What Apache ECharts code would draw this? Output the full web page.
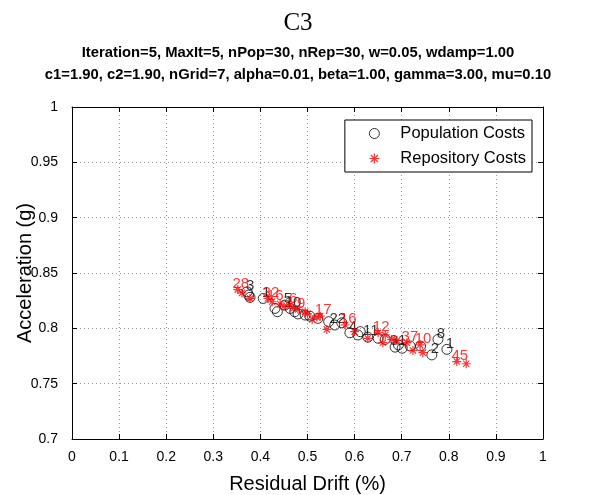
<!DOCTYPE html>
<html><head><meta charset="utf-8">
<script src="https://cdn.jsdelivr.net/npm/echarts@6/dist/echarts.min.js"></script>
<style>html,body{margin:0;padding:0;background:#fff}#c{width:596px;height:495px}</style>
</head><body><div id="c"></div>
<script>
const xTicks = [0,0.1,0.2,0.3,0.4,0.5,0.6,0.7,0.8,0.9,1];
const yTicks = [0.7,0.75,0.8,0.85,0.9,0.95,1];
const popX = [0.372,0.378,0.375,0.406,0.431,0.436,0.452,0.463,0.473,0.480,0.495,0.505,0.522,0.558,0.573,0.590,0.607,0.628,0.650,0.665,0.686,0.693,0.701,0.718,0.740,0.764,0.777,0.796,0.612,0.545];
const popY = [0.833,0.828,0.830,0.827,0.818,0.815,0.821,0.818,0.815,0.813,0.812,0.811,0.809,0.803,0.805,0.796,0.794,0.792,0.791,0.790,0.783,0.785,0.782,0.784,0.784,0.776,0.790,0.781,0.797,0.806];
const popLab = ['3','','','1','','','5','10','','','','','','22','','4','','11','','','31','','','','','2','8','1','',''];
const repX = [0.352,0.361,0.378,0.416,0.425,0.442,0.450,0.463,0.470,0.480,0.495,0.500,0.510,0.527,0.541,0.580,0.600,0.628,0.650,0.660,0.665,0.679,0.690,0.711,0.724,0.739,0.745,0.817,0.837,0.520];
const repY = [0.835,0.832,0.827,0.827,0.824,0.822,0.820,0.821,0.818,0.817,0.815,0.813,0.808,0.811,0.799,0.803,0.797,0.791,0.796,0.787,0.794,0.790,0.789,0.787,0.780,0.785,0.778,0.770,0.768,0.810];
const repLab = ['28','','','32','16','','','6','','9','','','','17','','16','','','12','','','','','37','','10','','45','',''];
const titleMain = 'C3';
const sub1 = 'Iteration=5, MaxIt=5, nPop=30, nRep=30, w=0.05, wdamp=1.00';
const sub2 = 'c1=1.90, c2=1.90, nGrid=7, alpha=0.01, beta=1.00, gamma=3.00, mu=0.10';

const star = 'path://M10 0 L10 20 M0 10 L20 10 M3 3 L17 17 M3 17 L17 3';
function mk(xs, ys, labs, color){
  return xs.map((x,i)=>({value:[x,ys[i]], label:{show:labs[i]!=='', formatter:labs[i], color:color}}));
}
const chart = echarts.init(document.getElementById('c'));
const axisCommon = {
  axisLine:{show:true,onZero:false,lineStyle:{color:'#000',width:1}},
  axisTick:{show:true,inside:true,length:5,lineStyle:{color:'#000'}},
};
chart.setOption({
  animation:false,
  title:[
    {text:titleMain,left:'center',top:6,textStyle:{fontFamily:'Liberation Serif',fontSize:25,fontWeight:'normal',color:'#000'}},
    {text:sub1,left:'center',top:40,textStyle:{fontFamily:'Liberation Sans',fontSize:14.8,fontWeight:'bold',color:'#000'}},
    {text:sub2,left:'center',top:62,textStyle:{fontFamily:'Liberation Sans',fontSize:14.8,fontWeight:'bold',color:'#000'}}
  ],
  grid:{left:72,top:107,right:53,bottom:56,containLabel:false,outerBoundsMode:'none'},
  legend:{
    right:64,top:120,orient:'vertical',itemGap:8,itemWidth:14,itemHeight:10,
    backgroundColor:'#fff',borderColor:'#000',borderWidth:1,padding:[5,6,5,22],
    textStyle:{fontFamily:'Liberation Sans',fontSize:16.5,color:'#000',padding:[0,0,0,14]},
    data:[{name:'Population Costs',icon:'circle',itemStyle:{color:'#fff',borderColor:'#000',borderWidth:1}},
          {name:'Repository Costs',icon:star,itemStyle:{color:'none',borderColor:'#f00',borderWidth:1.2}}]
  },
  xAxis:[
    Object.assign({type:'value',min:0,max:1,interval:0.1,position:'bottom',
      name:'Residual Drift (%)',nameLocation:'middle',nameGap:35,nameMoveOverlap:false,
      nameTextStyle:{fontFamily:'Liberation Sans',fontSize:20,color:'#000'},
      axisLabel:{fontFamily:'Liberation Sans',fontSize:14,color:'#000',margin:11,formatter:v=>String(+v.toFixed(2))},
      splitLine:{show:true,lineStyle:{color:'#999',type:[1,3],width:1}}},axisCommon),
    Object.assign({type:'value',min:0,max:1,interval:0.1,position:'top',axisLabel:{show:false},splitLine:{show:false}},axisCommon)
  ],
  yAxis:[
    Object.assign({type:'value',min:0.7,max:1,interval:0.05,position:'left',
      name:'Acceleration (g)',nameLocation:'middle',nameGap:37,nameMoveOverlap:false,
      nameTextStyle:{fontFamily:'Liberation Sans',fontSize:20,color:'#000'},
      axisLabel:{fontFamily:'Liberation Sans',fontSize:14,color:'#000',margin:14,formatter:v=>String(+v.toFixed(2))},
      splitLine:{show:true,lineStyle:{color:'#999',type:[1,3],width:1}}},axisCommon),
    Object.assign({type:'value',min:0.7,max:1,interval:0.05,position:'right',axisLabel:{show:false},splitLine:{show:false}},axisCommon)
  ],
  series:[
    {name:'Population Costs',type:'scatter',symbol:'circle',symbolSize:10,
     itemStyle:{color:'rgba(0,0,0,0)',borderColor:'#000',borderWidth:1},
     label:{position:'inside',offset:[3,-6],fontFamily:'Liberation Sans',fontSize:15},
     data:mk(popX,popY,popLab,'#000'),z:2},
    {name:'Repository Costs',type:'scatter',symbol:star,symbolSize:9,
     itemStyle:{color:'none',borderColor:'#f00',borderWidth:1.2},
     label:{position:'inside',offset:[3,-6],fontFamily:'Liberation Sans',fontSize:15},
     data:mk(repX,repY,repLab,'#f00'),z:3}
  ]
});
</script></body></html>
